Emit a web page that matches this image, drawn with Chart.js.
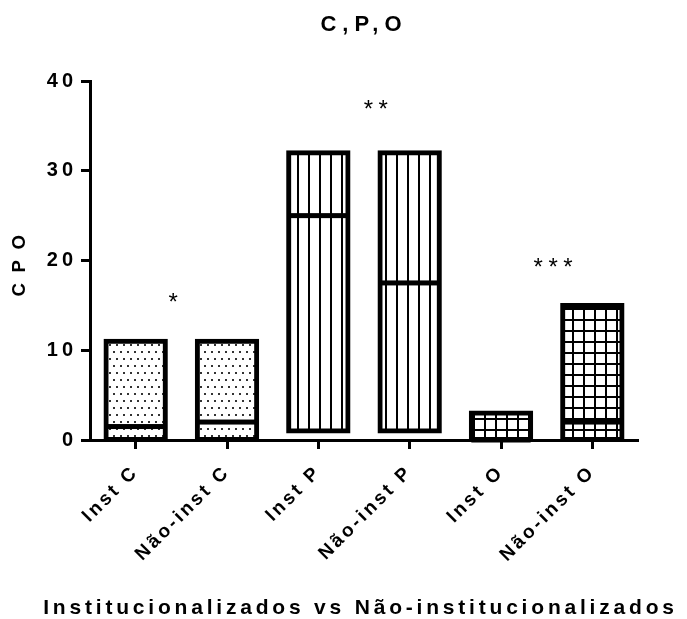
<!DOCTYPE html>
<html>
<head>
<meta charset="utf-8">
<script src="https://cdn.jsdelivr.net/npm/chart.js@4/dist/chart.umd.min.js"></script>
<style>
  html, body { margin: 0; padding: 0; background: #fff; }
  canvas { display: block; }
</style>
</head>
<body>
<canvas id="chart" width="687" height="619"></canvas>
<script>
// Groups and their CPO ranges (floating bars: min to max, with the median marked)
const categories = ['Inst C', 'Não-inst C', 'Inst P', 'Não-inst P', 'Inst O', 'Não-inst O'];
const minValues = [0, 0, 1, 1, 0, 0];
const maxValues = [11, 11, 32, 32, 3, 15];
const medianValues = [1.5, 2, 25, 17.5, 0, 2];
const yTickValues = [0, 10, 20, 30, 40];

// Significance marks, placed in data coordinates (category index, CPO value)
const sigLabels = ['*', '**', '***'];
const sigIndex = [0.44, 2.66, 4.6];
const sigValue = [15.2, 36.7, 19.1];

// Fill style for each bar
const barPatterns = ['dots', 'dots', 'vlines', 'vlines', 'grid', 'grid'];

const xAxisTitle = 'Institucionalizados vs Não-institucionalizados';

const FONT = '"Liberation Sans", Arial, Helvetica, sans-serif';
Chart.defaults.font.family = FONT;
Chart.defaults.color = '#000';

// Wide tracking per text size (title, axis titles, tick labels, marks)
const trackingBySize = { '22': 6, '21': 3.8, '20': 4, '19': 3, '18.6': 10.5, '24': 5.5 };

const canvas = document.getElementById('chart');
const ctx = canvas.getContext('2d');
const fontDesc = Object.getOwnPropertyDescriptor(CanvasRenderingContext2D.prototype, 'font');
Object.defineProperty(ctx, 'font', {
  configurable: true,
  get() { return fontDesc.get.call(this); },
  set(v) {
    fontDesc.set.call(this, v);
    const m = /(\d+(?:\.\d+)?)px/.exec(v);
    const s = m ? trackingBySize[m[1]] : 0;
    this.letterSpacing = (s || 0) + 'px';
  }
});

function makePattern(kind) {
  const c = document.createElement('canvas');
  const g = c.getContext('2d');
  if (kind === 'dots') {
    c.width = 7; c.height = 14;
    g.fillStyle = '#fff'; g.fillRect(0, 0, 7, 14);
    g.fillStyle = '#333';
    g.fillRect(1, 1, 2, 2);
    g.fillRect(4, 8, 2, 2);
  } else if (kind === 'vlines') {
    c.width = 11; c.height = 4;
    g.fillStyle = '#fff'; g.fillRect(0, 0, 11, 4);
    g.fillStyle = '#000'; g.fillRect(0, 0, 2, 4);
  } else {
    c.width = 11; c.height = 11;
    g.fillStyle = '#fff'; g.fillRect(0, 0, 11, 11);
    g.fillStyle = '#000';
    g.fillRect(0, 0, 2, 11);
    g.fillRect(0, 0, 11, 2);
  }
  return ctx.createPattern(c, 'repeat');
}

// Median lines, significance marks and the wide x-axis title
const overlayPlugin = {
  id: 'overlay',
  afterDatasetsDraw(chart) {
    const c = chart.ctx;
    const xs = chart.scales.x, ys = chart.scales.y;
    const meta = chart.getDatasetMeta(0);
    c.save();
    c.fillStyle = '#000';
    meta.data.forEach((bar, i) => {
      const y = ys.getPixelForValue(medianValues[i]);
      c.fillRect(bar.x - bar.width / 2, y - 2.5, bar.width, 5);
    });
    c.font = 'normal 24px ' + FONT;
    c.textAlign = 'center';
    c.textBaseline = 'middle';
    sigLabels.forEach((t, i) => {
      c.fillText(t, xs.getPixelForValue(sigIndex[i]), ys.getPixelForValue(sigValue[i]));
    });
    c.restore();
  },
  afterDraw(chart) {
    const c = chart.ctx;
    const area = chart.chartArea;
    c.save();
    c.fillStyle = '#000';
    c.font = 'bold 21px ' + FONT;
    c.textAlign = 'center';
    c.textBaseline = 'middle';
    c.fillText(xAxisTitle, (area.left + area.right) / 2 - 3.5, chart.height - 10.5);
    c.restore();
  }
};

new Chart(ctx, {
  type: 'bar',
  data: {
    labels: categories,
    datasets: [{
      data: minValues.map((lo, i) => [lo, maxValues[i]]),
      backgroundColor: barPatterns.map(makePattern),
      borderColor: '#000',
      borderWidth: 5,
      borderSkipped: false,
      inflateAmount: 2.5,
      barPercentage: 0.65,
      categoryPercentage: 1
    }]
  },
  options: {
    responsive: false,
    animation: false,
    devicePixelRatio: 1,
    layout: { padding: { top: 0, left: 0, right: 49, bottom: 0 } },
    plugins: {
      legend: { display: false },
      tooltip: { enabled: false },
      title: {
        display: true,
        text: 'C,P,O',
        fullSize: false,
        color: '#000',
        font: { size: 22, weight: 'bold', lineHeight: 1.2 },
        padding: { top: 12, bottom: 42.6 }
      }
    },
    scales: {
      x: {
        offset: true,
        grid: { offset: false, drawOnChartArea: false, drawTicks: true, tickLength: 9, tickWidth: 3, tickColor: '#000' },
        border: { display: true, color: '#000', width: 3 },
        ticks: {
          autoSkip: false, maxRotation: 45, minRotation: 45, padding: 12,
          color: '#000', font: { size: 19, weight: 'bold' }
        },
        title: { display: false },
        afterFit(scale) { scale.height = 179; }
      },
      y: {
        min: 0,
        max: 40,
        afterBuildTicks(scale) { scale.ticks = yTickValues.map(v => ({ value: v })); },
        grid: { drawOnChartArea: false, drawTicks: true, tickLength: 9, tickWidth: 3, tickColor: '#000' },
        border: { display: true, color: '#000', width: 3 },
        ticks: { padding: 4, color: '#000', font: { size: 20, weight: 'bold' } },
        title: {
          display: true,
          text: 'CPO',
          color: '#000',
          font: { size: 18.6, weight: 'bold', lineHeight: 1.2 },
          padding: { top: 8.5, bottom: 0 }
        },
        afterFit(scale) { scale.width = 90; }
      }
    }
  },
  plugins: [overlayPlugin]
});
</script>
</body>
</html>
